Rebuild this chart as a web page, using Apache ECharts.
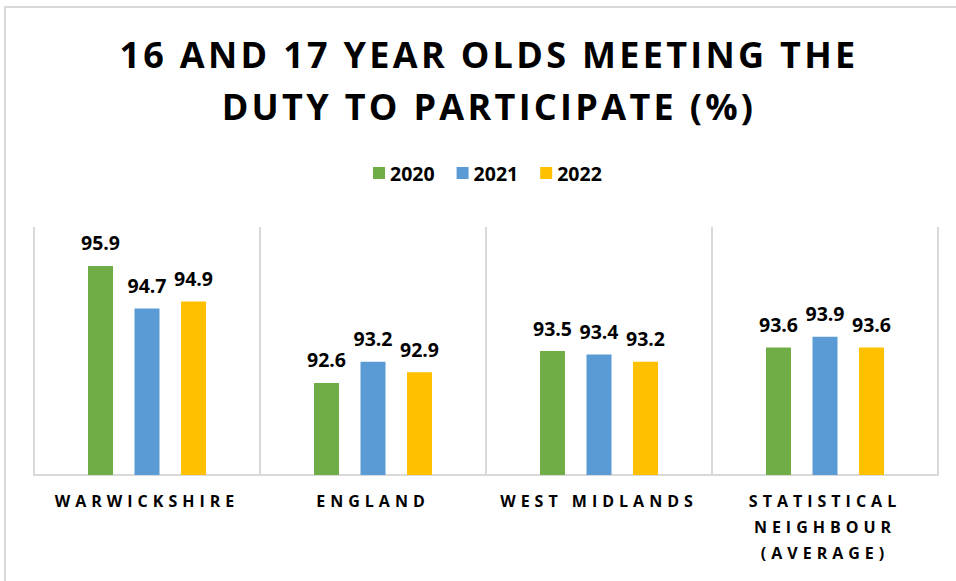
<!DOCTYPE html>
<html>
<head>
<meta charset="utf-8">
<script src="https://cdn.jsdelivr.net/npm/echarts@6/dist/echarts.min.js"></script>
<style>
  html, body { margin: 0; padding: 0; background: #fff; }
  #main { width: 956px; height: 581px; }
  /* Excel-style spaced capitals for title and category names */
  #main text[style*="36px"] { letter-spacing: 3.3px; }
  #main text[style*="16px"] { letter-spacing: 5px; }
</style>
</head>
<body>
<div id="main"></div>
<script>
var categories = ['WARWICKSHIRE', 'ENGLAND', 'WEST MIDLANDS', 'STATISTICAL\nNEIGHBOUR\n(AVERAGE)'];
var years = ['2020', '2021', '2022'];
var values2020 = [95.9, 92.6, 93.5, 93.6];
var values2021 = [94.7, 93.2, 93.4, 93.9];
var values2022 = [94.9, 92.9, 93.2, 93.6];
var colors = ['#70AD47', '#5B9BD5', '#FFC000'];

var font = '"Open Sans", "Liberation Sans", sans-serif';
var myChart = echarts.init(document.getElementById('main'), null, { renderer: 'svg' });

function barSeries(name, data, color) {
	return {
		name : name,
		type : 'bar',
		data : data,
		barWidth : 25,
		barGap : '86%',
		itemStyle : { color : color },
		label : {
			show : true,
			position : 'top',
			distance : 13,
			color : '#000',
			fontFamily : font,
			fontWeight : 'bold',
			fontSize : 19.5
		}
	};
}

var option = {
	animation : false,
	color : colors,
	title : {
		text : '16 AND 17 YEAR OLDS MEETING THE\nDUTY TO PARTICIPATE (%)',
		left : 484,
		top : 23,
		textAlign : 'center',
		textStyle : {
			fontFamily : font,
			fontWeight : 'bold',
			fontSize : 36,
			lineHeight : 52,
			color : '#000'
		}
	},
	legend : {
		data : years,
		left : 368,
		top : 158,
		icon : 'rect',
		itemWidth : 12,
		itemHeight : 12,
		itemGap : 22,
		textStyle : {
			fontFamily : font,
			fontWeight : 'bold',
			fontSize : 19.5,
			color : '#000'
		}
	},
	graphic : [{
		type : 'rect',
		shape : { x : 5, y : 7, width : 1000, height : 700 },
		style : { fill : 'none', stroke : '#d9d9d9', lineWidth : 2 },
		silent : true
	}],
	grid : {
		left : 34,
		right : 18,
		top : 227,
		bottom : 106
	},
	xAxis : {
		type : 'category',
		data : categories,
		axisLine : { lineStyle : { color : '#d9d9d9', width : 2 } },
		axisTick : { show : false },
		splitLine : { show : true, lineStyle : { color : '#d9d9d9', width : 2 } },
		axisLabel : {
			interval : 0,
			margin : 13,
			fontFamily : font,
			fontWeight : 'bold',
			fontSize : 16,
			lineHeight : 26,
			color : '#000'
		}
	},
	yAxis : {
		type : 'value',
		min : 90,
		max : 97,
		show : false
	},
	series : [
		barSeries(years[0], values2020, colors[0]),
		barSeries(years[1], values2021, colors[1]),
		barSeries(years[2], values2022, colors[2])
	]
};
myChart.setOption(option);
</script>
</body>
</html>
